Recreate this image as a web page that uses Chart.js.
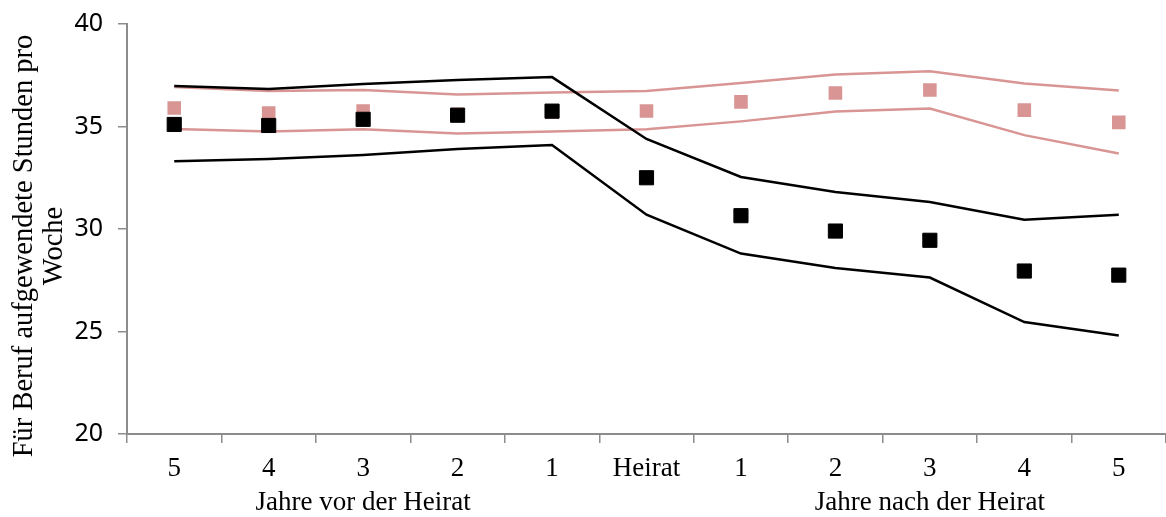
<!DOCTYPE html>
<html><head><meta charset="utf-8">
<script src="https://cdn.jsdelivr.net/npm/chart.js@4/dist/chart.umd.min.js"></script>
<style>html,body{margin:0;padding:0;background:#fff;}#wrap{width:1166px;height:517px;}</style>
</head><body><div id="wrap"><canvas id="c" width="1166" height="517"></canvas></div>
<script>
const categories = [["5"],["4"],["3","Jahre vor der Heirat"],["2"],["1"],["Heirat"],["1"],["2"],["3","Jahre nach der Heirat"],["4"],["5"]];
const yTicks = [20, 25, 30, 35, 40];
const yTitleLines = ['Für Beruf aufgewendete Stunden pro', 'Woche'];
const blackPoints = [35.1, 35.05, 35.35, 35.55, 35.75, 32.5, 30.65, 29.9, 29.45, 27.95, 27.75];
const blackUpper  = [36.98, 36.83, 37.07, 37.27, 37.41, 34.39, 32.54, 31.8, 31.32, 30.45, 30.7];
const blackLower  = [33.3, 33.41, 33.61, 33.9, 34.1, 30.7, 28.8, 28.1, 27.63, 25.46, 24.8];
const pinkPoints  = [35.9, 35.66, 35.76, 35.6, 35.7, 35.76, 36.2, 36.63, 36.78, 35.8, 35.2];
const pinkUpper   = [36.93, 36.73, 36.78, 36.56, 36.66, 36.73, 37.12, 37.54, 37.69, 37.1, 36.76];
const pinkLower   = [34.88, 34.76, 34.86, 34.66, 34.76, 34.86, 35.25, 35.73, 35.88, 34.58, 33.68];

const PINK = '#d99594';
const AXIS = '#8c8c8c';

const yTitlePlugin = {
  id: 'yTitle',
  afterDraw(chart) {
    const ctx = chart.ctx;
    ctx.save();
    ctx.fillStyle = '#000';
    ctx.font = '28.5px "Liberation Serif"';
    ctx.textAlign = 'center';
    ctx.textBaseline = 'alphabetic';
    const baselines = [32, 62];
    const cy = 246;
    yTitleLines.forEach((t, i) => {
      ctx.save();
      ctx.translate(baselines[i], cy);
      ctx.rotate(-Math.PI / 2);
      ctx.fillText(t, 0, 0);
      ctx.restore();
    });
    ctx.restore();
  }
};

new Chart(document.getElementById('c'), {
  type: 'line',
  data: {
    labels: categories,
    datasets: [
      {data: blackPoints, showLine: false, pointStyle: 'rect', pointRadius: 10, pointHoverRadius: 10,
       backgroundColor: '#000', borderColor: '#000', pointBorderWidth: 1},
      {data: blackUpper, borderColor: '#000', borderWidth: 2.5, pointRadius: 0, tension: 0, fill: false},
      {data: blackLower, borderColor: '#000', borderWidth: 2.5, pointRadius: 0, tension: 0, fill: false},
      {data: pinkPoints, showLine: false, pointStyle: 'rect', pointRadius: 9.6, pointHoverRadius: 9.6,
       backgroundColor: PINK, borderColor: PINK, pointBorderWidth: 0},
      {data: pinkUpper, borderColor: PINK, borderWidth: 2.5, pointRadius: 0, tension: 0, fill: false},
      {data: pinkLower, borderColor: PINK, borderWidth: 2.5, pointRadius: 0, tension: 0, fill: false}
    ]
  },
  plugins: [yTitlePlugin],
  options: {
    responsive: false,
    animation: false,
    events: [],
    layout: {autoPadding: false, padding: {top: 24, right: 0, left: 0, bottom: 0}},
    plugins: {legend: {display: false}, tooltip: {enabled: false}},
    scales: {
      x: {
        offset: true,
        grid: {display: true, offset: true, drawOnChartArea: false, drawTicks: true, tickLength: 9, color: AXIS, lineWidth: 1.5},
        border: {display: true, color: AXIS, width: 2},
        ticks: {color: '#000', maxRotation: 0, autoSkip: false, padding: 9,
                font: {family: 'Liberation Serif', size: 27, lineHeight: 1.25}},
        afterFit: s => { s.height = 83; s.paddingRight = 0; s.paddingLeft = 0; }
      },
      y: {
        min: 20, max: 40,
        afterBuildTicks: s => { s.ticks = yTicks.map(v => ({value: v})); },
        grid: {display: true, drawOnChartArea: false, drawTicks: true, tickLength: 9, color: AXIS, lineWidth: 1.5},
        border: {display: true, color: AXIS, width: 2},
        ticks: {color: '#000', padding: 15, font: {family: 'Noto Sans', size: 25}},
        title: {display: false},
        afterFit: s => { s.width = 127; s.paddingTop = 0; s.paddingBottom = 0; }
      }
    }
  }
});
</script></body></html>
